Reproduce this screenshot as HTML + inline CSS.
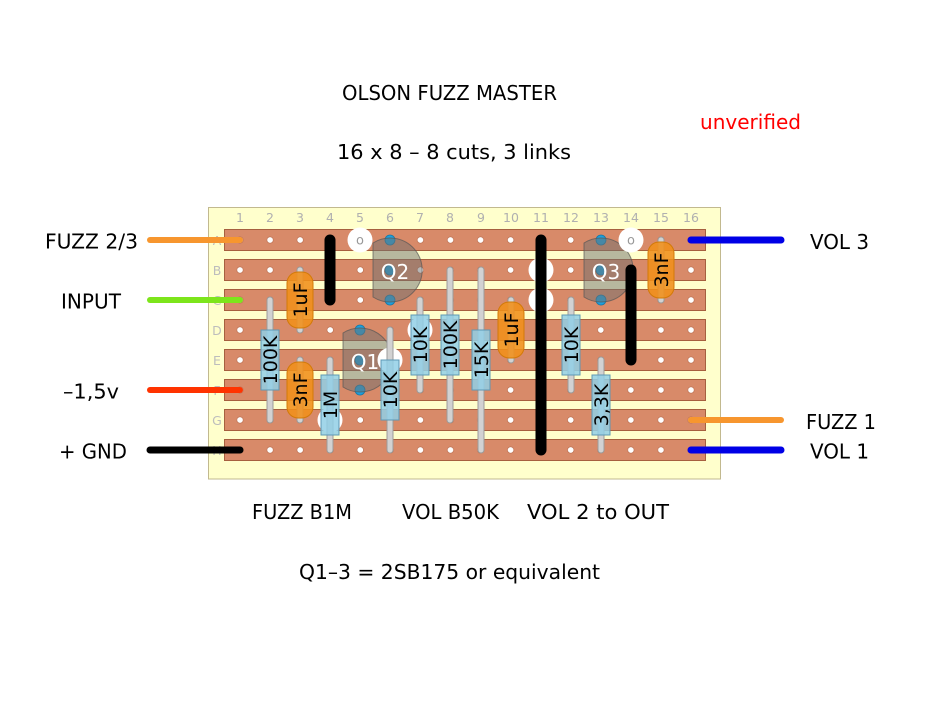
<!DOCTYPE html>
<html><head><meta charset="utf-8"><style>
html,body{margin:0;padding:0;background:#fff;}
svg{display:block;font-family:"DejaVu Sans","Liberation Sans",sans-serif;}
</style></head><body>
<svg width="941" height="708" viewBox="0 0 941 708" xmlns="http://www.w3.org/2000/svg">
<defs>
<pattern id="holes" patternUnits="userSpaceOnUse" x="225.0" y="225" width="30.0667" height="30">
<circle cx="15" cy="15" r="3.2" fill="#fff" stroke="#b8694a" stroke-width="0.6"/>
</pattern>
</defs>
<rect width="941" height="708" fill="#fff"/>

<!-- titles -->
<g font-size="20" fill="#000">
<text x="342" y="100" textLength="215" lengthAdjust="spacingAndGlyphs">OLSON FUZZ MASTER</text>
<text x="700" y="129" textLength="101" lengthAdjust="spacingAndGlyphs" fill="#ff0000">unverified</text>
<text x="337" y="159" textLength="234" lengthAdjust="spacingAndGlyphs">16 x 8 – 8 cuts, 3 links</text>

<text x="45" y="248.5" textLength="93" lengthAdjust="spacingAndGlyphs">FUZZ 2/3</text>
<text x="61" y="308.5" textLength="60" lengthAdjust="spacingAndGlyphs">INPUT</text>
<text x="63" y="398.5" textLength="56" lengthAdjust="spacingAndGlyphs">–1,5v</text>
<text x="59" y="458.5" textLength="68" lengthAdjust="spacingAndGlyphs">+ GND</text>

<text x="810" y="249" textLength="59" lengthAdjust="spacingAndGlyphs">VOL 3</text>
<text x="806" y="429" textLength="70" lengthAdjust="spacingAndGlyphs">FUZZ 1</text>
<text x="810" y="458.5" textLength="59" lengthAdjust="spacingAndGlyphs">VOL 1</text>

<text x="252" y="519" textLength="100" lengthAdjust="spacingAndGlyphs">FUZZ B1M</text>
<text x="402" y="519" textLength="97" lengthAdjust="spacingAndGlyphs">VOL B50K</text>
<text x="527" y="519" textLength="142" lengthAdjust="spacingAndGlyphs">VOL 2 to OUT</text>
<text x="299" y="579" textLength="301" lengthAdjust="spacingAndGlyphs">Q1–3 = 2SB175 or equivalent</text>
</g>

<!-- board -->
<rect x="208.5" y="207.5" width="512" height="271.5" fill="#ffffcc" stroke="#c2b98f" stroke-width="1"/>

<!-- column numbers -->
<g font-size="12.5" fill="#b0b0b0" text-anchor="middle">
<text x="240" y="222">1</text><text x="270" y="222">2</text><text x="300" y="222">3</text><text x="330" y="222">4</text>
<text x="360" y="222">5</text><text x="390" y="222">6</text><text x="420" y="222">7</text><text x="450" y="222">8</text>
<text x="481" y="222">9</text><text x="511" y="222">10</text><text x="541" y="222">11</text><text x="571" y="222">12</text>
<text x="601" y="222">13</text><text x="631" y="222">14</text><text x="661" y="222">15</text><text x="691" y="222">16</text>
</g>
<!-- row letters -->
<g font-size="12.5" fill="#bdbdbd" text-anchor="middle">
<text x="217" y="245">A</text><text x="217" y="275">B</text><text x="217" y="305">C</text><text x="217" y="335">D</text>
<text x="217" y="365">E</text><text x="217" y="395">F</text><text x="217" y="425">G</text><text x="217" y="455">H</text>
</g>

<!-- strips -->
<g fill="#d88a69" stroke="#a6603f" stroke-width="1">
<rect x="224.5" y="229.5" width="481" height="21"/>
<rect x="224.5" y="259.5" width="481" height="21"/>
<rect x="224.5" y="289.5" width="481" height="21"/>
<rect x="224.5" y="319.5" width="481" height="21"/>
<rect x="224.5" y="349.5" width="481" height="21"/>
<rect x="224.5" y="379.5" width="481" height="21"/>
<rect x="224.5" y="409.5" width="481" height="21"/>
<rect x="224.5" y="439.5" width="481" height="21"/>
</g>
<rect x="225" y="225" width="481" height="240" fill="url(#holes)"/>

<!-- wires -->
<g stroke-linecap="round" stroke-width="6" fill="none">
<line x1="150" y1="240" x2="240" y2="240" stroke="#f7962e"/>
<line x1="150" y1="300" x2="240" y2="300" stroke="#7de51b"/>
<line x1="150" y1="390" x2="240" y2="390" stroke="#ff3300"/>
<line x1="150" y1="450" x2="240" y2="450" stroke="#000" stroke-width="7"/>
<line x1="691" y1="240" x2="781" y2="240" stroke="#0000e6" stroke-width="7"/>
<line x1="691" y1="420" x2="781" y2="420" stroke="#f7962e"/>
<line x1="691" y1="450" x2="781" y2="450" stroke="#0000e6" stroke-width="7"/>
</g>

<!-- transistor pins -->
<g fill="#1ea0dc" stroke="#1478a8" stroke-width="0.8">
<circle cx="390" cy="240" r="5"/><circle cx="390" cy="270" r="5"/><circle cx="390" cy="300" r="5"/>
<circle cx="360" cy="330" r="5"/><circle cx="360" cy="360" r="5"/><circle cx="360" cy="390" r="5"/>
<circle cx="601" cy="240" r="5"/><circle cx="601" cy="270" r="5"/><circle cx="601" cy="300" r="5"/>
</g>
<!-- transistor bodies -->
<g fill="#707070" fill-opacity="0.5" stroke="#555" stroke-opacity="0.7" stroke-width="1">
<path d="M373,243 A32,32 0 1,1 373,297 Z"/>
<path d="M343,333 A32,32 0 1,1 343,387 Z"/>
<path d="M584,243 A32,32 0 1,1 584,297 Z"/>
</g>
<g font-size="20" fill="#fff" text-anchor="middle">
<text x="395" y="279">Q2</text>
<text x="365" y="369">Q1</text>
<text x="606" y="279">Q3</text>
</g>

<!-- cuts -->
<g fill="#fff">
<circle cx="360" cy="240" r="12.5"/>
<circle cx="631" cy="240" r="12.5"/>
<circle cx="541" cy="270" r="12.5"/>
<circle cx="541" cy="300" r="12.5"/>
<circle cx="330" cy="420" r="12.5"/>
<circle cx="390" cy="360" r="12.5"/>
<circle cx="420" cy="330" r="12.5"/>
</g>
<g font-size="13" fill="#999" text-anchor="middle">
<text x="360" y="244.5">o</text>
<text x="631" y="244.5">o</text>
</g>

<!-- links -->
<g stroke="#000" stroke-linecap="round" fill="none">
<line x1="330" y1="240" x2="330" y2="300" stroke-width="11"/>
<line x1="541" y1="240" x2="541" y2="450" stroke-width="11"/>
<line x1="631" y1="270" x2="631" y2="360" stroke-width="11"/>
</g>

<!-- leads -->
<g stroke-linecap="round" fill="none">
<g stroke="#9c9c9c" stroke-width="7">
<line x1="270" y1="300" x2="270" y2="420"/>
<line x1="330" y1="360" x2="330" y2="450"/>
<line x1="390" y1="330" x2="390" y2="450"/>
<line x1="420" y1="300" x2="420" y2="390"/>
<line x1="450" y1="270" x2="450" y2="420"/>
<line x1="481" y1="270" x2="481" y2="450"/>
<line x1="571" y1="300" x2="571" y2="390"/>
<line x1="601" y1="360" x2="601" y2="450"/>
<line x1="300" y1="270" x2="300" y2="330"/>
<line x1="300" y1="360" x2="300" y2="420"/>
<line x1="511" y1="300" x2="511" y2="360"/>
<line x1="661" y1="240" x2="661" y2="300"/>
</g>
<g stroke="#d2d2d2" stroke-width="5">
<line x1="270" y1="300" x2="270" y2="420"/>
<line x1="330" y1="360" x2="330" y2="450"/>
<line x1="390" y1="330" x2="390" y2="450"/>
<line x1="420" y1="300" x2="420" y2="390"/>
<line x1="450" y1="270" x2="450" y2="420"/>
<line x1="481" y1="270" x2="481" y2="450"/>
<line x1="571" y1="300" x2="571" y2="390"/>
<line x1="601" y1="360" x2="601" y2="450"/>
<line x1="300" y1="270" x2="300" y2="330"/>
<line x1="300" y1="360" x2="300" y2="420"/>
<line x1="511" y1="300" x2="511" y2="360"/>
<line x1="661" y1="240" x2="661" y2="300"/>
</g>
</g>

<!-- resistor bodies -->
<g fill="#92cfe6" fill-opacity="0.85" stroke="#5f98b5" stroke-width="1">
<rect x="261" y="330" width="18" height="60"/>
<rect x="321" y="375" width="18" height="60"/>
<rect x="381" y="360" width="18" height="60"/>
<rect x="411" y="315" width="18" height="60"/>
<rect x="441" y="315" width="18" height="60"/>
<rect x="472" y="330" width="18" height="60"/>
<rect x="562" y="315" width="18" height="60"/>
<rect x="592" y="375" width="18" height="60"/>
</g>
<!-- capacitor bodies -->
<g fill="#f0901a" fill-opacity="0.88" stroke="#d27a08" stroke-width="1">
<rect x="287" y="272" width="26" height="56" rx="11"/>
<rect x="287" y="362" width="26" height="56" rx="11"/>
<rect x="498" y="302" width="26" height="56" rx="11"/>
<rect x="648" y="242" width="26" height="56" rx="11"/>
</g>

<!-- component labels -->
<g font-size="19" fill="#000" text-anchor="middle">
<text transform="translate(270,360) rotate(-90)" y="7">100K</text>
<text transform="translate(330,405) rotate(-90)" y="7">1M</text>
<text transform="translate(390,390) rotate(-90)" y="7">10K</text>
<text transform="translate(420,345) rotate(-90)" y="7">10K</text>
<text transform="translate(450,345) rotate(-90)" y="7">100K</text>
<text transform="translate(481,360) rotate(-90)" y="7">15K</text>
<text transform="translate(571,345) rotate(-90)" y="7">10K</text>
<text transform="translate(601,405) rotate(-90)" y="7">3,3K</text>
<text transform="translate(300,300) rotate(-90)" y="7">1uF</text>
<text transform="translate(300,390) rotate(-90)" y="7">3nF</text>
<text transform="translate(511,330) rotate(-90)" y="7">1uF</text>
<text transform="translate(661,270) rotate(-90)" y="7">3nF</text>
</g>
</svg>
</body></html>
